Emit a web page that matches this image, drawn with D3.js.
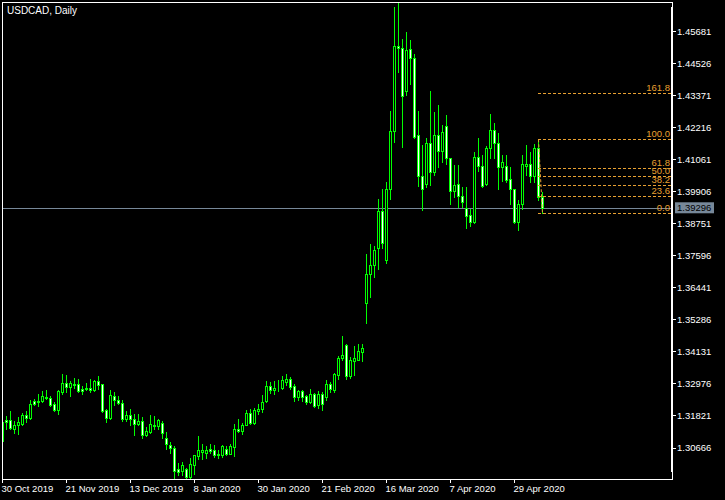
<!DOCTYPE html>
<html><head><meta charset="utf-8">
<script src="https://cdn.jsdelivr.net/npm/d3@7"></script>
<style>html,body{margin:0;padding:0;background:#000;}svg{display:block;}</style>
</head><body>
<svg id="chart" width="725" height="500"></svg>
<script>
const chartTitle = "USDCAD, Daily";
const opens = [1.3087,1.3163,1.3163,1.3130,1.3147,1.3151,1.3181,1.3171,1.3232,1.3228,1.3231,1.3243,1.3242,1.3221,1.3199,1.3265,1.3299,1.3283,1.3293,1.3295,1.3277,1.3278,1.3278,1.3271,1.3305,1.3293,1.3199,1.3171,1.3249,1.3237,1.3227,1.3166,1.3181,1.3169,1.3148,1.3159,1.3109,1.3121,1.3145,1.3142,1.3153,1.3100,1.3073,1.3064,1.2986,1.2980,1.2986,1.2958,1.3000,1.3033,1.3048,1.3046,1.3058,1.3057,1.3040,1.3036,1.3058,1.3043,1.3066,1.3133,1.3124,1.3147,1.3190,1.3153,1.3196,1.3203,1.3231,1.3285,1.3271,1.3281,1.3281,1.3301,1.3313,1.3285,1.3247,1.3267,1.3249,1.3229,1.3257,1.3217,1.3257,1.3247,1.3293,1.3271,1.3328,1.3388,1.3434,1.3323,1.3377,1.3382,1.3409,1.3586,1.3692,1.3725,1.3783,1.3917,1.3743,1.3999,1.4206,1.4513,1.4505,1.4352,1.4501,1.4469,1.4192,1.4045,1.4017,1.4165,1.4059,1.4192,1.4135,1.4224,1.4111,1.3991,1.4015,1.3973,1.3929,1.3903,1.3879,1.4113,1.4081,1.4014,1.4147,1.4212,1.4162,1.4075,1.4081,1.4032,1.3996,1.3877,1.3945,1.4081,1.4087,1.4045,1.4144,1.3970];
const highs = [1.3163,1.3177,1.3195,1.3159,1.3175,1.3190,1.3195,1.3235,1.3241,1.3259,1.3267,1.3271,1.3250,1.3229,1.3271,1.3329,1.3325,1.3304,1.3317,1.3311,1.3287,1.3299,1.3313,1.3307,1.3323,1.3295,1.3203,1.3271,1.3265,1.3249,1.3237,1.3195,1.3203,1.3184,1.3184,1.3175,1.3139,1.3181,1.3177,1.3169,1.3159,1.3121,1.3084,1.3069,1.3009,1.3012,1.2991,1.3028,1.3039,1.3105,1.3076,1.3069,1.3079,1.3075,1.3055,1.3073,1.3070,1.3079,1.3151,1.3169,1.3153,1.3199,1.3205,1.3209,1.3223,1.3253,1.3304,1.3301,1.3304,1.3307,1.3322,1.3329,1.3319,1.3295,1.3271,1.3271,1.3253,1.3277,1.3261,1.3267,1.3265,1.3307,1.3301,1.3334,1.3394,1.3466,1.3437,1.3391,1.3430,1.3437,1.3440,1.3762,1.3798,1.3792,1.3963,1.3997,1.4021,1.4278,1.4653,1.4669,1.4537,1.4562,1.4535,1.4484,1.4278,1.4156,1.4183,1.4350,1.4274,1.4300,1.4228,1.4264,1.4111,1.4083,1.4083,1.4003,1.4003,1.3927,1.4131,1.4183,1.4119,1.4152,1.4267,1.4236,1.4200,1.4119,1.4119,1.4077,1.3999,1.3957,1.4119,1.4156,1.4131,1.4159,1.41767,1.3987];
const lows = [1.3084,1.3130,1.3133,1.3118,1.3115,1.3147,1.3157,1.3166,1.3217,1.3214,1.3229,1.3239,1.3214,1.3195,1.3187,1.3259,1.3265,1.3250,1.3281,1.3264,1.3257,1.3271,1.3265,1.3269,1.3277,1.3193,1.3157,1.3166,1.3217,1.3223,1.3160,1.3159,1.3147,1.3109,1.3145,1.3099,1.3105,1.3117,1.3133,1.3133,1.3099,1.3061,1.3046,1.2950,1.2964,1.2964,1.2956,1.2956,1.2970,1.3025,1.3025,1.3027,1.3046,1.3030,1.3027,1.3030,1.3036,1.3040,1.3033,1.3121,1.3112,1.3145,1.3148,1.3151,1.3184,1.3193,1.3229,1.3261,1.3259,1.3267,1.3277,1.3289,1.3277,1.3231,1.3237,1.3232,1.3221,1.3225,1.3211,1.3209,1.3199,1.3235,1.3265,1.3265,1.3313,1.3379,1.3313,1.3317,1.3325,1.3379,1.3377,1.3514,1.3608,1.3680,1.3707,1.3783,1.3729,1.3960,1.4167,1.4420,1.4149,1.4336,1.4376,1.4180,1.4009,1.3923,1.4003,1.4011,1.4047,1.4077,1.4095,1.4089,1.3945,1.3969,1.3933,1.3933,1.3855,1.3863,1.3875,1.4063,1.4005,1.4011,1.4111,1.4111,1.3997,1.4027,1.4023,1.3945,1.3875,1.3851,1.3927,1.4047,1.4023,1.4023,1.3957,1.39093];
const closes = [1.3156,1.3156,1.3135,1.3147,1.3157,1.3181,1.3171,1.3223,1.3222,1.3231,1.3250,1.3247,1.3219,1.3200,1.3267,1.3299,1.3283,1.3299,1.3289,1.3269,1.3269,1.3275,1.3271,1.3305,1.3289,1.3196,1.3171,1.3253,1.3237,1.3225,1.3169,1.3181,1.3166,1.3148,1.3160,1.3109,1.3124,1.3151,1.3141,1.3165,1.3117,1.3079,1.3064,1.2980,1.2976,1.3000,1.2958,1.3004,1.3036,1.3055,1.3057,1.3055,1.3051,1.3036,1.3036,1.3069,1.3043,1.3069,1.3133,1.3124,1.3145,1.3190,1.3153,1.3199,1.3205,1.3229,1.3285,1.3274,1.3281,1.3278,1.3307,1.3313,1.3283,1.3247,1.3267,1.3247,1.3229,1.3259,1.3213,1.3257,1.3223,1.3293,1.3277,1.3329,1.3389,1.3397,1.3323,1.3382,1.3386,1.3412,1.3422,1.3692,1.3725,1.3779,1.3917,1.3803,1.3999,1.4206,1.4513,1.4505,1.4334,1.4499,1.4469,1.4186,1.4045,1.3999,1.4165,1.4059,1.4192,1.4135,1.4204,1.4111,1.3991,1.4011,1.3973,1.3951,1.3900,1.3879,1.4113,1.4081,1.4009,1.4147,1.4212,1.4162,1.4075,1.4095,1.4029,1.3999,1.3879,1.3945,1.4086,1.4087,1.4045,1.4147,1.3970,1.39296];
const holidays = ["2019-12-25", "2020-01-01"];
const xTickLabels = ["30 Oct 2019","21 Nov 2019","13 Dec 2019","8 Jan 2020","30 Jan 2020","21 Feb 2020","16 Mar 2020","7 Apr 2020","29 Apr 2020"];
const yTickValues = [1.45681,1.44526,1.43371,1.42216,1.41061,1.39906,1.38751,1.37596,1.36441,1.35286,1.34131,1.32976,1.31821,1.30666];
const lastPrice = 1.39296;
const fibHigh = 1.41767, fibLow = 1.39093;
const fibRatios = [0, 0.236, 0.382, 0.5, 0.618, 1, 1.618];
const fibLabels = ["0.0","23.6","38.2","50.0","61.8","100.0","161.8"];

// trading-day categories
const fmtKey = d3.timeFormat("%Y-%m-%d");
const fmtLabel = d3.timeFormat("%-d %b %Y");
const dates = d3.timeDay.range(new Date(2019, 9, 30), new Date(2020, 4, 9))
  .filter(d => d.getDay() !== 0 && d.getDay() !== 6 && !holidays.includes(fmtKey(d)))
  .slice(0, opens.length);
const bars = dates.map((d, i) => ({date: d, label: fmtLabel(d), o: opens[i], h: highs[i], l: lows[i], c: closes[i]}));

const L = 2, T = 2, R = 672, B = 479;
const svg = d3.select("#chart");
svg.append("rect").attr("width", 725).attr("height", 500).attr("fill", "#000");

const x = d3.scaleBand().domain(bars.map(b => b.label)).range([0.5, 0.5 + 4 * bars.length]).padding(0);
const y = d3.scaleLinear().domain([1.29512, 1.46720]).range([B, T]);
const cx = b => x(b.label) + x.bandwidth() / 2;
const py = v => Math.round(y(v)) + 0.5;

svg.append("defs").append("clipPath").attr("id", "plot")
  .append("rect").attr("x", L + 1).attr("y", T + 1).attr("width", R - L - 1).attr("height", B - T - 1);

const plot = svg.append("g").attr("clip-path", "url(#plot)");

// last price line
plot.append("line").attr("x1", L).attr("x2", R).attr("y1", py(lastPrice)).attr("y2", py(lastPrice))
  .attr("stroke", "#778899").attr("stroke-width", 1).attr("shape-rendering", "crispEdges");

// candles
const cg = plot.append("g").attr("shape-rendering", "crispEdges");
cg.selectAll("line.wick").data(bars).join("line").attr("class", "wick")
  .attr("x1", cx).attr("x2", cx)
  .attr("y1", b => Math.round(y(b.h))).attr("y2", b => Math.round(y(b.l)) + 1)
  .attr("stroke", "#00ff00").attr("stroke-width", 1);
cg.selectAll("rect.body").data(bars).join("rect").attr("class", "body")
  .attr("x", b => cx(b) - 1).attr("width", 2)
  .attr("y", b => py(Math.max(b.o, b.c)))
  .attr("height", b => Math.max(0, py(Math.min(b.o, b.c)) - py(Math.max(b.o, b.c))))
  .attr("fill", b => b.c < b.o ? "#ffffff" : "#000000")
  .attr("stroke", "#00ff00").attr("stroke-width", 1);

// fibonacci
const fibColor = "#e8a031";
const bHi = bars[bars.length - 2], bLo = bars[bars.length - 1];
const fg = svg.append("g");
fg.append("line").attr("x1", cx(bHi)).attr("y1", y(fibHigh)).attr("x2", cx(bLo)).attr("y2", y(fibLow))
  .attr("stroke", fibColor).attr("stroke-width", 1).attr("stroke-dasharray", "3,2");
fibRatios.forEach((r, k) => {
  const v = fibLow + r * (fibHigh - fibLow);
  const yy = py(v);
  fg.append("line").attr("x1", cx(bHi) - 0.5).attr("x2", R).attr("y1", yy).attr("y2", yy)
    .attr("stroke", fibColor).attr("stroke-width", 1).attr("stroke-dasharray", "3,2")
    .attr("shape-rendering", "crispEdges");
  fg.append("text").attr("x", R - 2).attr("y", yy - 3).attr("text-anchor", "end")
    .attr("fill", fibColor).attr("font-family", "Liberation Sans, Arial, sans-serif").attr("font-size", "9.5px")
    .text(fibLabels[k]);
});

// frame
const frame = svg.append("g").attr("stroke", "#fff").attr("shape-rendering", "crispEdges");
frame.append("line").attr("x1", L + 0.5).attr("x2", L + 0.5).attr("y1", T).attr("y2", B + 1);
frame.append("line").attr("x1", L).attr("x2", R + 1).attr("y1", T + 0.5).attr("y2", T + 0.5);
frame.append("line").attr("x1", L).attr("x2", R + 1).attr("y1", B + 0.5).attr("y2", B + 0.5);
frame.append("line").attr("x1", R + 0.5).attr("x2", R + 0.5).attr("y1", T).attr("y2", B + 1);
svg.append("rect").attr("x", R - 1).attr("y", 7).attr("width", 2).attr("height", 465).attr("fill", "#fff");

// y axis
const yAxis = d3.axisRight(y).tickValues(yTickValues).tickFormat(d3.format(".5f")).tickSize(3).tickPadding(1);
const ya = svg.append("g").attr("transform", `translate(${R + 1},0.5)`).call(yAxis);
ya.select(".domain").remove();
ya.selectAll("line").attr("stroke", "#fff").attr("shape-rendering", "crispEdges");
ya.selectAll("text").attr("fill", "#fff").attr("font-family", "Liberation Sans, Arial, sans-serif").attr("font-size", "9.5px");

// last price box
const lpY = y(lastPrice);
svg.append("rect").attr("x", 675).attr("y", lpY - 5.5).attr("width", 39).attr("height", 11).attr("fill", "#778899");
svg.append("text").attr("x", 677).attr("y", lpY).attr("dy", "0.35em").attr("fill", "#000")
  .attr("font-family", "Liberation Sans, Arial, sans-serif").attr("font-size", "9.5px").text(d3.format(".5f")(lastPrice));

// x axis
const xa = svg.append("g").attr("transform", `translate(0,${B + 1})`)
  .call(d3.axisBottom(x).tickValues(xTickLabels).tickSize(3).tickFormat(d => d));
xa.select(".domain").remove();
xa.selectAll("line").attr("stroke", "#fff").attr("shape-rendering", "crispEdges");
xa.selectAll("text").attr("fill", "#fff").attr("text-anchor", "start").attr("x", -1).attr("y", 5).attr("dy", "0.71em")
  .attr("font-family", "Liberation Sans, Arial, sans-serif").attr("font-size", "9.5px");

// title
svg.append("text").attr("x", 7).attr("y", 14).attr("fill", "#fff")
  .attr("font-family", "Liberation Sans, Arial, sans-serif").attr("font-size", "10px").text(chartTitle);
</script>
</body></html>
